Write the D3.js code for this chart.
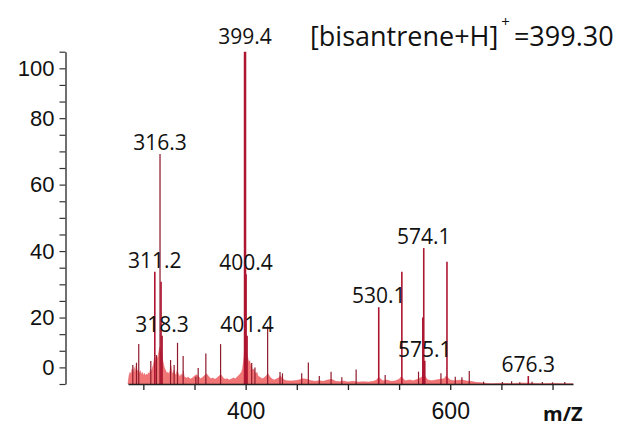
<!DOCTYPE html>
<html>
<head>
<meta charset="utf-8">
<script src="https://cdn.jsdelivr.net/npm/d3@7/dist/d3.min.js"></script>
<style>
  html, body { margin: 0; padding: 0; background: #fff; }
  svg { display: block; }
</style>
</head>
<body>
<svg id="chart" width="623" height="426"></svg>
<script>
// Baseline "grass" envelope of the spectrum: [m/z, relative intensity %]
const noiseProfile = [
  [285,0],[286,2.5],[287,3.5],[288,2.8],[289,4.5],[290,3.0],[291,5.0],[292,3.2],[293,5.5],[294,3.8],
  [295,4.2],[296,3.0],[297,4.0],[298,2.8],[299,3.5],[300,2.5],[301,3.2],[302,2.4],[303,3.0],[304,2.6],
  [305,3.4],[306,3.0],[307,4.5],[308,3.6],[309,5.0],[310,6.0],[311,8.0],[312,6.5],[313,8.5],[314,7.5],
  [315,9.5],[316,11.0],[317,10.0],[318,9.0],[319,7.0],[320,5.5],[321,4.5],[322,4.0],[323,3.0],[324,3.6],
  [325,2.8],[326,4.0],[327,5.5],[328,3.5],[329,3.0],[330,4.2],[331,3.0],[332,2.6],[333,4.0],[334,3.2],
  [335,2.5],[336,2.2],[337,3.0],[338,2.0],[339,4.0],[340,2.2],[342,1.8],[344,2.0],[346,1.5],[348,1.8],
  [350,2.4],[352,2.8],[354,2.2],[356,1.6],[358,2.0],[360,2.6],[362,3.0],[364,2.2],[366,1.6],[368,1.8],
  [370,1.4],[372,1.8],[374,2.4],[376,2.8],[378,1.8],[380,1.4],[382,1.6],[384,1.2],[386,1.5],[388,1.8],
  [390,1.6],[392,2.2],[394,2.8],[396,3.6],[397,4.6],[398,7.0],[399,10.0],[400,11.0],[401,9.0],[402,8.0],
  [403,6.5],[404,7.0],[405,5.5],[406,5.0],[407,4.0],[408,4.5],[409,3.5],[410,3.0],[411,3.5],[412,2.4],
  [414,2.0],[416,1.6],[418,1.8],[420,2.5],[422,3.0],[424,2.0],[426,1.5],[428,1.2],[430,1.5],[432,1.8],
  [434,2.4],[436,1.6],[438,1.2],[440,1.0],[444,0.9],[448,1.0],[452,1.2],[456,1.6],[460,1.4],[464,1.0],
  [468,0.8],[472,1.0],[476,0.8],[480,1.2],[484,1.4],[488,0.8],[492,0.7],[496,0.9],[500,0.6],[505,0.8],
  [510,0.6],[515,0.7],[520,0.6],[525,0.8],[528,1.2],[530,2.0],[532,1.5],[534,1.0],[538,1.2],[542,0.8],
  [546,0.9],[550,1.4],[552,2.2],[554,1.6],[556,1.0],[560,1.2],[564,1.0],[568,1.4],[572,2.0],[574,2.8],
  [576,2.0],[578,1.2],[582,1.0],[586,1.2],[590,1.4],[594,1.6],[596,2.4],[598,1.8],[600,1.2],[604,1.0],
  [608,1.1],[612,1.2],[616,0.9],[620,0.8],[625,0.5],[630,0.4],[635,0.2],[640,0.1],[650,0.2],[660,0.1],
  [670,0.3],[680,0.2],[690,0.1],[700,0.2],[710,0.1],[720,0.1]
];

// Minor centroid peaks
const minorMz  = [289.7, 293.3, 295.5, 307.3, 312.8, 326.6, 330.1, 333.4, 338.9, 351.3, 353.6, 361.1, 375.5,
                  405.9, 409.1, 421.5, 433.6, 436.0, 454.8, 461.3, 472.0, 483.5, 494.0, 508.0, 536.4, 569.0,
                  590.9, 604.9, 611.4, 618.6, 632.6, 651.0, 660.0, 668.0, 680.0, 690.0, 700.0, 712.0];
const minorInt = [5.7, 6.4, 12.0, 6.9, 8.7, 7.2, 5.7, 12.4, 8.4, 2.2, 4.8, 9.2, 12.0,
                  6.3, 5.0, 17.3, 3.6, 3.2, 3.2, 6.5, 2.4, 3.7, 2.0, 4.4, 2.7, 3.7,
                  3.2, 2.2, 2.0, 3.9, 0.7, 0.6, 0.8, 0.5, 0.7, 0.6, 0.5, 0.6];

// Major peaks
const majorMz  = [311.2, 316.3, 317.3, 318.3, 399.4, 400.4, 401.4, 530.1, 552.7, 573.2, 574.1, 575.1, 596.8, 676.3];
const majorInt = [33.8, 69.2, 30.8, 14.5, 100, 33, 14.5, 23.1, 33.8, 20, 40.9, 7, 36.8, 2.4];

// Peaks annotated with their m/z
const labeledMz = [399.4, 316.3, 311.2, 318.3, 400.4, 401.4, 530.1, 574.1, 575.1, 676.3];

// Axis ticks
const xTicks = [300, 350, 400, 450, 500, 550, 600, 650, 700];
const xTickLabels = [400, 600];
const yTicks = d3.range(0, 101, 5);
// y tick labels and the tick they sit on
const yLabelAt = [95, 80, 60, 40, 20, 5];
const yLabelText = ["100", "80", "60", "40", "20", "0"];

const svg = d3.select("#chart");

const x = d3.scaleLinear().domain([285, 720]).range([128, 573]);
const y = d3.scaleLinear().domain([0, 100]).range([384, 51.7]);

const peakColor = "#ad1530";
const fillColor = "#f27576";

// filled grass
const area = d3.area()
  .x(d => x(d[0]))
  .y0(y(0))
  .y1(d => y(d[1]));
svg.append("path")
  .datum(noiseProfile)
  .attr("d", area)
  .attr("fill", fillColor)
  .attr("stroke", "#e85a62")
  .attr("stroke-width", 0.5);

// minor sticks
const minor = minorMz.map((m, i) => ({ mz: m, v: minorInt[i] }));
svg.append("g").selectAll("line").data(minor).join("line")
  .attr("x1", d => x(d.mz)).attr("x2", d => x(d.mz))
  .attr("y1", y(0)).attr("y2", d => y(d.v))
  .attr("stroke", "#8e1a2c")
  .attr("stroke-width", 1.2);

// major sticks
const major = majorMz.map((m, i) => ({ mz: m, v: majorInt[i] }));
svg.append("g").selectAll("line").data(major).join("line")
  .attr("x1", d => x(d.mz)).attr("x2", d => x(d.mz))
  .attr("y1", y(0)).attr("y2", d => y(d.v))
  .attr("stroke", d => d.v >= 60 && d.v < 90 ? "#8a1226" : peakColor)
  .attr("stroke-width", d => d.v >= 90 ? 2.5 : (d.v >= 60 ? 1.2 : 1.6));

// m/z annotations
const labels = labeledMz.map(m => ({ mz: m, v: majorInt[majorMz.indexOf(m)] }));
svg.append("g").selectAll("text").data(labels).join("text")
  .attr("x", d => x(d.mz))
  .attr("y", d => y(d.v) - (d.v >= 90 ? 8 : 4))
  .attr("text-anchor", "middle")
  .attr("font-family", "'Open Sans', sans-serif")
  .attr("font-size", 21)
  .attr("fill", "#111")
  .text(d => d.mz.toFixed(1));

// x axis
const xAxis = d3.axisBottom(x)
  .tickValues(xTicks)
  .tickSize(6)
  .tickPadding(13)
  .tickSizeOuter(0)
  .tickFormat(d => xTickLabels.includes(d) ? d : "");
const gx = svg.append("g").attr("transform", `translate(0,${y(0)})`).call(xAxis);
gx.select(".domain").attr("stroke", "#222").attr("stroke-width", 1.6);
gx.selectAll(".tick line").attr("stroke", "#222").attr("stroke-width", 1.3);
gx.selectAll(".tick text")
  .attr("font-family", "'Liberation Sans', Arial, sans-serif")
  .attr("font-size", 23)
  .attr("fill", "#111");

// y axis
const yAxis = d3.axisLeft(y)
  .tickValues(yTicks)
  .tickSize(6)
  .tickPadding(5)
  .tickSizeOuter(0)
  .tickFormat(d => {
    const k = yLabelAt.indexOf(d);
    return k >= 0 ? yLabelText[k] : "";
  });
const gy = svg.append("g").attr("transform", "translate(65.5,0)").call(yAxis);
gy.select(".domain").attr("stroke", "#333").attr("stroke-width", 1.4);
gy.selectAll(".tick line").attr("stroke", "#333").attr("stroke-width", 1.2);
gy.selectAll(".tick text")
  .attr("font-family", "'Liberation Sans', Arial, sans-serif")
  .attr("font-size", 22)
  .attr("fill", "#111");

// x axis title
svg.append("text")
  .attr("x", 543).attr("y", 421)
  .attr("font-family", "'Open Sans', sans-serif")
  .attr("font-weight", "bold")
  .attr("font-size", 20)
  .attr("fill", "#111")
  .text("m/Z");

// ion annotation
const t = svg.append("text")
  .attr("x", 310).attr("y", 46)
  .attr("font-family", "'Open Sans', sans-serif")
  .attr("font-size", 27)
  .attr("fill", "#111");
t.append("tspan").text("[bisantrene+H]");
t.append("tspan").attr("dy", -19).attr("dx", 3).attr("font-size", 15).text("+");
t.append("tspan").attr("dy", 19).attr("dx", 4).text("=399.30");
</script>
</body>
</html>
